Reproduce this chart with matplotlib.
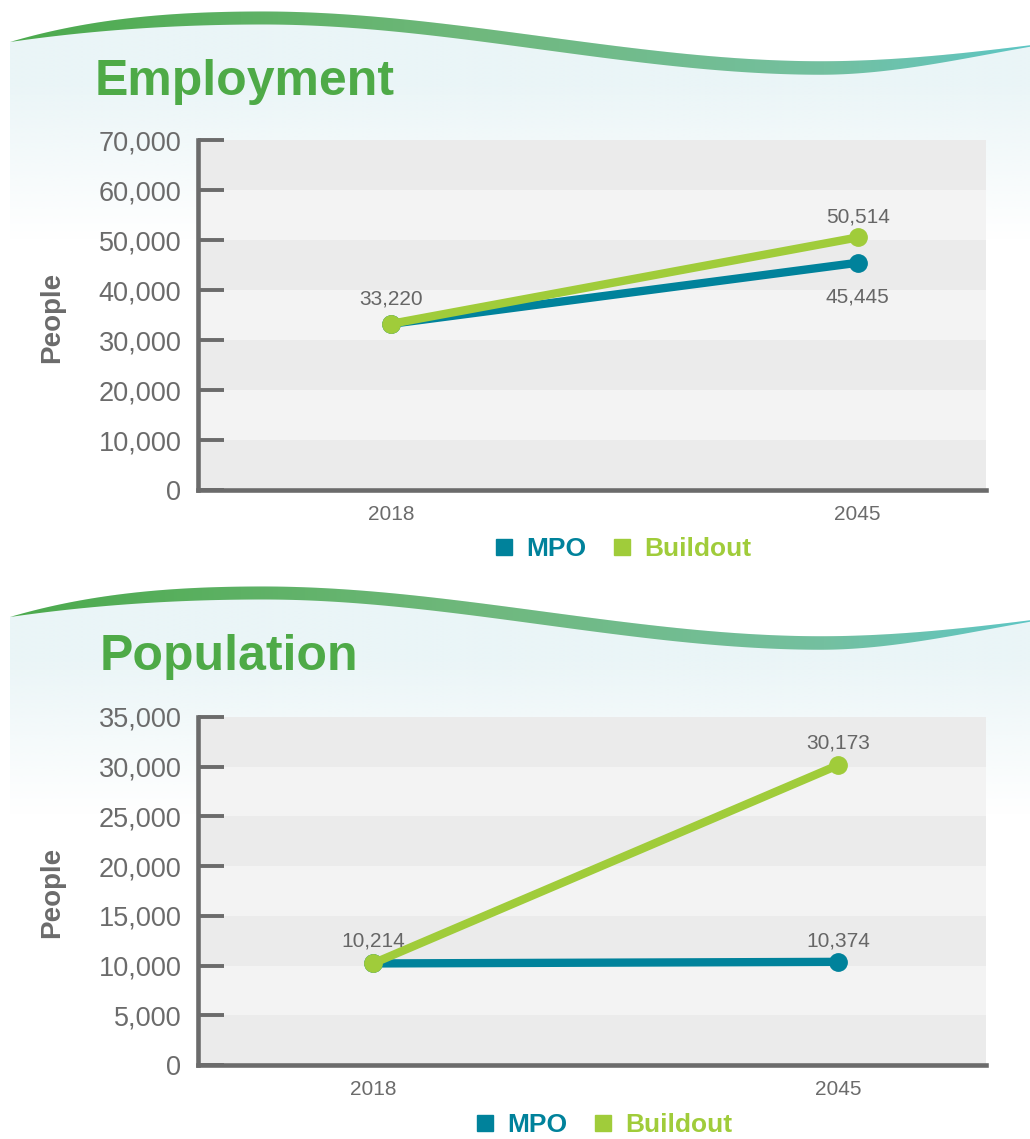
import matplotlib
matplotlib.use("Agg")
import matplotlib.pyplot as plt
import numpy as np
from matplotlib.colors import LinearSegmentedColormap, to_rgb
from matplotlib.lines import Line2D
from matplotlib.patches import Polygon

plt.rcParams["font.family"] = ["Liberation Sans", "DejaVu Sans"]

# data
years = ["2018", "2045"]
series_names = ["MPO", "Buildout"]
emp_mpo = [33220, 45445]
emp_buildout = [33220, 50514]
pop_mpo = [10214, 10374]
pop_buildout = [10214, 30173]

MPO_C = "#00829B"
BUILD_C = "#A0CC3A"
GREY = "#6b6b6b"
LABEL_GREY = "#666666"
TITLE_GREEN = "#4EAA47"

W, H = 1030, 1139


def hermite(x, pts):
    # piecewise cubic through (x, y, slope) knots
    out = np.empty_like(x)
    for (x0, y0, m0), (x1, y1, m1) in zip(pts[:-1], pts[1:]):
        sel = (x >= x0) & (x <= x1)
        h = x1 - x0
        t = (x[sel] - x0) / h
        out[sel] = ((2 * t**3 - 3 * t**2 + 1) * y0 + (t**3 - 2 * t**2 + t) * h * m0
                    + (-2 * t**3 + 3 * t**2) * y1 + (t**3 - t**2) * h * m1)
    return out


wave_cmap = LinearSegmentedColormap.from_list(
    "wave", [(0, "#4BAA4C"), (0.45, "#6FB87C"), (0.8, "#74C0A0"), (1, "#5EC6C4")]
)


def draw_header(bg, dy, title, title_x):
    xs = np.linspace(10, 1030, 500)
    c = hermite(xs, [(10, 42, -0.22), (263, 18, 0), (821, 68, 0), (1030, 46, -0.15)]) + dy
    w = hermite(xs, [(10, 0, 0.15), (263, 13, 0), (821, 13.5, 0), (1030, 1.5, -0.05)])
    top = c - w / 2
    bot = c + w / 2

    # pale blue wash under the wave
    light = Polygon(list(zip(xs, top)) + [(1030, dy + 260), (10, dy + 260)],
                    closed=True, transform=bg.transData, fc="none", ec="none")
    bg.add_patch(light)
    ys = np.linspace(dy + 10, dy + 260, 200)
    alpha = np.clip(1 - (ys - (dy + 80)) / 160, 0, 1)
    rgba = np.zeros((len(ys), 2, 4))
    rgba[..., :3] = to_rgb("#EAF5F7")
    rgba[..., 3] = alpha[:, None]
    im = bg.imshow(rgba, extent=(10, 1030, dy + 260, dy + 10), aspect="auto",
                   interpolation="bilinear", zorder=0)
    im.set_clip_path(light)

    # green-to-teal ribbon
    ribbon = Polygon(list(zip(xs, top)) + list(zip(xs[::-1], bot[::-1])),
                     closed=True, transform=bg.transData, fc="none", ec="none")
    bg.add_patch(ribbon)
    grad = np.linspace(0, 1, 512)[None, :]
    im2 = bg.imshow(grad, cmap=wave_cmap, extent=(10, 1030, dy + 100, dy),
                    aspect="auto", zorder=1)
    im2.set_clip_path(ribbon)

    bg.text(title_x, 95 + dy, title, fontsize=36, fontweight="bold",
            color=TITLE_GREEN, ha="left", va="baseline", zorder=2)


def draw_chart(fig, rect, mpo, build, ymax, step, xlim, offsets):
    ax = fig.add_axes(rect)
    ax.set_facecolor("none")
    lows = np.arange(0, ymax, step)
    for i, lo in enumerate(lows):
        ax.axhspan(lo, lo + step, color="#EBEBEB" if i % 2 == 0 else "#F3F3F3",
                   lw=0, zorder=0)

    x = np.arange(len(years))
    ax.plot(x, mpo, color=MPO_C, lw=6, marker="o", ms=12.5, zorder=3)
    ax.plot(x, build, color=BUILD_C, lw=6, marker="o", ms=12.5, zorder=4)

    for (xi, v), off in zip([(0, build[0]), (1, build[1]), (1, mpo[1])], offsets):
        ax.annotate(f"{v:,}", (xi, v), xytext=(0, off), textcoords="offset points",
                    ha="center", va="center", fontsize=15, color=LABEL_GREY, zorder=5)

    ax.set_xlim(*xlim)
    ax.set_ylim(0, ymax)
    ax.set_yticks(np.arange(0, ymax + 1, step))
    ax.set_yticklabels([f"{v:,}" for v in np.arange(0, ymax + 1, step)])
    ax.set_xticks(x, years)

    for side in ["top", "right"]:
        ax.spines[side].set_visible(False)
    for side in ["left", "bottom"]:
        ax.spines[side].set_linewidth(3.3)
        ax.spines[side].set_color(GREY)
        ax.spines[side].set_zorder(2.6)

    ax.tick_params(axis="y", direction="in", length=18.5, width=2.8, color=GREY,
                   labelsize=19.5, labelcolor=GREY, pad=12)
    ax.tick_params(axis="x", length=0, labelsize=15, labelcolor=GREY, pad=11)
    return ax


def add_legend(fig, cx, cy):
    handles = [Line2D([], [], marker="s", ls="none", ms=12, color=MPO_C),
               Line2D([], [], marker="s", ls="none", ms=12, color=BUILD_C)]
    leg = fig.legend(handles, series_names, loc="center",
                     bbox_to_anchor=(cx / W, 1 - cy / H), ncol=2, frameon=False,
                     prop={"size": 19, "weight": "bold"}, handlelength=0.7,
                     handletextpad=0.5, columnspacing=1.0)
    for txt, col in zip(leg.get_texts(), [MPO_C, BUILD_C]):
        txt.set_color(col)


def main():
    fig = plt.figure(figsize=(W / 100, H / 100), dpi=100)
    bg = fig.add_axes([0, 0, 1, 1])
    bg.axis("off")

    draw_header(bg, 0, "Employment", 95)
    draw_header(bg, 575, "Population", 100)
    bg.set_xlim(0, W)
    bg.set_ylim(H, 0)

    draw_chart(fig, [198 / W, 1 - 490 / H, 788 / W, 350 / H],
               emp_mpo, emp_buildout, 70000, 10000, (-0.413, 1.275), [18, 14.5, -25])
    draw_chart(fig, [198 / W, 1 - 1065 / H, 788 / W, 348 / H],
               pop_mpo, pop_buildout, 35000, 5000, (-0.376, 1.317), [16.5, 16, 15])

    for cy in [317, 892]:
        fig.text(52 / W, 1 - cy / H, "People", rotation=90, ha="center", va="center",
                 fontsize=20, fontweight="bold", color=GREY)

    add_legend(fig, 623, 549)
    add_legend(fig, 604, 1125)

    fig.savefig("out.png", dpi=100)


if __name__ == "__main__":
    main()
